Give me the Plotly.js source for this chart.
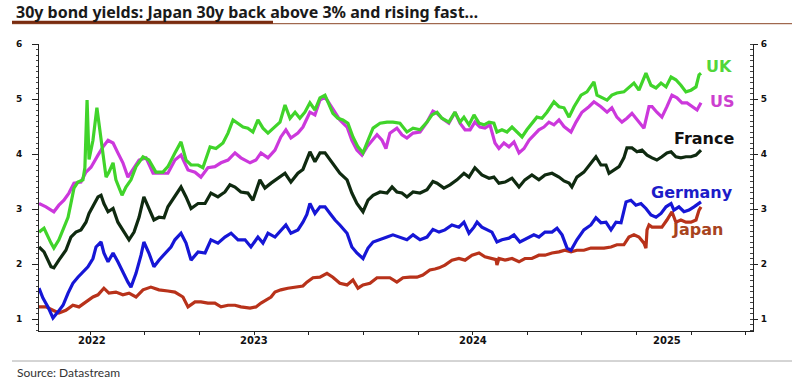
<!DOCTYPE html>
<html><head><meta charset="utf-8">
<script src="https://cdn.plot.ly/plotly-3.0.1.min.js"></script>
<style>html,body{margin:0;padding:0;background:#fff}#chart{width:792px;height:386px}</style>
</head><body><div id="chart"></div>
<script>
// time in decimal years
const ukT=[2022.515,2022.538,2022.570,2022.583,2022.606,2022.625,2022.648,2022.661,2022.675,2022.693,2022.716,2022.725,2022.735,2022.744,2022.762,2022.780,2022.789,2022.808,2022.822,2022.835,2022.854,2022.867,2022.895,2022.913,2022.936,2022.959,2022.991,2023.018,2023.050,2023.082,2023.105,2023.137,2023.165,2023.188,2023.211,2023.243,2023.265,2023.298,2023.325,2023.357,2023.380,2023.403,2023.426,2023.449,2023.471,2023.494,2023.517,2023.540,2023.563,2023.595,2023.618,2023.641,2023.664,2023.687,2023.709,2023.732,2023.755,2023.778,2023.801,2023.824,2023.838,2023.860,2023.883,2023.906,2023.929,2023.952,2023.975,2023.998,2024.021,2024.044,2024.076,2024.108,2024.135,2024.167,2024.199,2024.227,2024.259,2024.291,2024.314,2024.337,2024.359,2024.391,2024.419,2024.442,2024.460,2024.483,2024.506,2024.529,2024.552,2024.575,2024.597,2024.611,2024.634,2024.657,2024.680,2024.703,2024.726,2024.748,2024.771,2024.794,2024.817,2024.840,2024.872,2024.895,2024.918,2024.941,2024.964,2024.996,2025.023,2025.055,2025.069,2025.092,2025.115,2025.137,2025.160,2025.192,2025.215,2025.238,2025.261,2025.293,2025.316,2025.339,2025.362,2025.385,2025.408,2025.430,2025.453,2025.476,2025.499,2025.522,2025.536,2025.545];
const ukV=[2.58,2.65,2.38,2.29,2.44,2.62,2.85,3.10,3.38,3.49,3.53,3.75,4.98,3.90,4.25,4.84,4.56,4.02,3.58,3.67,3.84,3.53,3.25,3.40,3.53,3.77,3.95,3.89,3.67,3.67,3.77,4.02,4.22,3.89,3.80,3.80,3.75,4.13,4.10,4.20,4.38,4.62,4.56,4.49,4.47,4.40,4.62,4.47,4.38,4.49,4.58,4.89,4.65,4.76,4.65,4.76,4.93,4.80,5.02,5.07,4.95,4.74,4.65,4.62,4.56,4.31,4.13,4.02,4.25,4.47,4.56,4.58,4.58,4.56,4.40,4.47,4.44,4.58,4.71,4.76,4.65,4.58,4.76,4.58,4.67,4.53,4.71,4.56,4.53,4.58,4.56,4.40,4.44,4.40,4.49,4.40,4.31,4.44,4.56,4.67,4.65,4.76,4.95,4.86,4.84,4.67,4.86,5.07,5.13,5.31,5.07,5.02,4.98,5.07,5.11,5.13,5.22,5.29,5.16,5.47,5.25,5.20,5.29,5.22,5.40,5.35,5.25,5.13,5.16,5.22,5.44,5.47];

const usT=[2022.515,2022.547,2022.583,2022.606,2022.629,2022.652,2022.675,2022.707,2022.730,2022.753,2022.785,2022.808,2022.831,2022.854,2022.876,2022.899,2022.922,2022.945,2022.973,2023.005,2023.037,2023.064,2023.105,2023.137,2023.165,2023.197,2023.229,2023.256,2023.288,2023.320,2023.348,2023.380,2023.412,2023.439,2023.481,2023.508,2023.531,2023.563,2023.595,2023.622,2023.645,2023.668,2023.700,2023.723,2023.755,2023.778,2023.801,2023.824,2023.847,2023.870,2023.892,2023.925,2023.947,2023.970,2023.993,2024.016,2024.039,2024.062,2024.085,2024.103,2024.121,2024.153,2024.176,2024.199,2024.227,2024.259,2024.291,2024.318,2024.337,2024.359,2024.391,2024.419,2024.442,2024.465,2024.488,2024.510,2024.533,2024.556,2024.579,2024.602,2024.620,2024.643,2024.666,2024.689,2024.712,2024.735,2024.758,2024.780,2024.803,2024.826,2024.849,2024.872,2024.895,2024.918,2024.950,2024.973,2025.000,2025.032,2025.055,2025.087,2025.115,2025.137,2025.160,2025.183,2025.206,2025.229,2025.252,2025.284,2025.307,2025.321,2025.343,2025.366,2025.389,2025.412,2025.435,2025.458,2025.481,2025.504,2025.527,2025.545];
const usV=[3.10,3.04,2.95,3.07,3.16,3.29,3.47,3.49,3.67,3.76,3.98,4.13,4.25,4.20,4.02,3.84,3.58,3.71,3.89,3.93,3.65,3.65,3.65,3.89,3.98,3.71,3.67,3.58,3.75,3.77,3.84,3.89,4.02,3.93,3.84,3.89,4.02,3.93,4.07,4.31,4.44,4.29,4.38,4.49,4.76,4.71,4.98,5.04,4.89,4.74,4.62,4.49,4.25,4.07,3.98,4.13,4.25,4.35,4.25,4.10,4.38,4.47,4.35,4.29,4.38,4.40,4.58,4.78,4.74,4.65,4.56,4.76,4.56,4.44,4.44,4.58,4.49,4.47,4.53,4.20,4.10,4.20,4.13,4.22,4.02,4.10,4.25,4.35,4.44,4.49,4.58,4.53,4.62,4.50,4.40,4.58,4.76,4.86,4.95,4.86,4.76,4.84,4.67,4.58,4.65,4.74,4.62,4.47,4.86,4.86,4.76,4.67,4.86,5.07,5.02,4.93,4.93,4.86,4.80,4.93];

const frT=[2022.515,2022.538,2022.570,2022.583,2022.606,2022.638,2022.661,2022.684,2022.707,2022.730,2022.744,2022.767,2022.785,2022.799,2022.812,2022.831,2022.854,2022.876,2022.899,2022.927,2022.950,2022.973,2022.995,2023.018,2023.041,2023.064,2023.087,2023.105,2023.137,2023.165,2023.188,2023.211,2023.243,2023.275,2023.302,2023.334,2023.366,2023.389,2023.412,2023.439,2023.471,2023.494,2023.526,2023.549,2023.577,2023.609,2023.641,2023.668,2023.700,2023.723,2023.755,2023.778,2023.801,2023.824,2023.847,2023.870,2023.892,2023.925,2023.947,2023.970,2023.998,2024.021,2024.044,2024.076,2024.108,2024.131,2024.153,2024.176,2024.199,2024.227,2024.259,2024.291,2024.318,2024.337,2024.368,2024.396,2024.428,2024.460,2024.483,2024.510,2024.542,2024.575,2024.597,2024.620,2024.648,2024.680,2024.712,2024.739,2024.771,2024.803,2024.831,2024.863,2024.895,2024.918,2024.941,2024.954,2024.977,2025.009,2025.041,2025.064,2025.087,2025.110,2025.124,2025.147,2025.170,2025.192,2025.206,2025.229,2025.252,2025.275,2025.298,2025.321,2025.343,2025.366,2025.389,2025.408,2025.430,2025.453,2025.476,2025.499,2025.522,2025.545];
const frV=[2.31,2.22,1.95,1.93,2.07,2.25,2.49,2.58,2.62,2.76,2.92,3.10,3.22,3.25,3.10,2.95,3.01,2.76,2.62,2.44,2.58,2.85,3.22,3.01,2.80,2.85,2.84,3.04,3.22,3.40,3.22,3.01,3.10,3.10,3.29,3.22,3.31,3.44,3.40,3.31,3.29,3.16,3.53,3.38,3.47,3.56,3.65,3.49,3.65,3.72,4.04,3.86,4.02,4.02,3.89,3.77,3.65,3.53,3.29,3.10,2.95,3.16,3.25,3.31,3.29,3.40,3.31,3.29,3.22,3.31,3.29,3.35,3.50,3.47,3.38,3.44,3.53,3.65,3.58,3.75,3.62,3.56,3.58,3.47,3.49,3.56,3.40,3.53,3.62,3.53,3.62,3.65,3.58,3.51,3.47,3.40,3.58,3.67,3.84,3.95,3.80,3.80,3.65,3.71,3.77,3.93,4.11,4.11,4.04,4.07,3.98,3.93,3.89,3.95,4.02,4.04,3.95,3.93,3.95,3.95,3.98,4.07];

const deT=[2022.515,2022.533,2022.556,2022.579,2022.602,2022.625,2022.648,2022.670,2022.693,2022.716,2022.739,2022.762,2022.776,2022.799,2022.812,2022.831,2022.854,2022.876,2022.899,2022.922,2022.936,2022.959,2022.982,2022.995,2023.018,2023.041,2023.064,2023.096,2023.119,2023.137,2023.165,2023.188,2023.211,2023.243,2023.275,2023.302,2023.334,2023.366,2023.394,2023.426,2023.458,2023.485,2023.517,2023.540,2023.563,2023.595,2023.622,2023.645,2023.668,2023.700,2023.723,2023.741,2023.755,2023.778,2023.801,2023.824,2023.847,2023.870,2023.892,2023.925,2023.947,2023.970,2023.998,2024.021,2024.044,2024.076,2024.108,2024.135,2024.167,2024.199,2024.227,2024.259,2024.291,2024.318,2024.346,2024.373,2024.405,2024.437,2024.460,2024.483,2024.506,2024.520,2024.542,2024.565,2024.588,2024.611,2024.634,2024.666,2024.689,2024.716,2024.748,2024.780,2024.803,2024.831,2024.863,2024.886,2024.909,2024.932,2024.950,2024.977,2025.009,2025.041,2025.064,2025.087,2025.110,2025.133,2025.156,2025.179,2025.202,2025.224,2025.247,2025.270,2025.293,2025.316,2025.339,2025.362,2025.385,2025.408,2025.421,2025.444,2025.467,2025.490,2025.513,2025.545];
const deV=[1.56,1.38,1.22,1.02,1.13,1.25,1.47,1.65,1.76,1.85,1.95,2.10,2.31,2.40,2.20,2.04,2.20,2.04,1.85,1.67,1.58,1.83,2.16,2.40,2.20,1.95,2.07,2.20,2.31,2.44,2.56,2.38,2.07,2.22,2.20,2.44,2.38,2.49,2.56,2.44,2.44,2.31,2.49,2.38,2.56,2.49,2.62,2.71,2.56,2.62,2.76,2.90,3.10,2.92,3.04,3.04,2.92,2.80,2.71,2.56,2.31,2.20,2.10,2.29,2.40,2.44,2.49,2.53,2.49,2.44,2.53,2.44,2.49,2.63,2.58,2.62,2.71,2.67,2.76,2.56,2.67,2.76,2.67,2.62,2.58,2.40,2.44,2.47,2.53,2.40,2.47,2.53,2.49,2.58,2.58,2.65,2.53,2.29,2.25,2.44,2.62,2.71,2.84,2.75,2.76,2.62,2.76,2.75,3.13,3.16,3.07,3.10,3.01,2.89,2.85,2.92,3.04,3.10,2.98,3.04,2.95,2.98,3.04,3.13];

const jpT=[2022.515,2022.547,2022.579,2022.606,2022.638,2022.670,2022.698,2022.730,2022.762,2022.785,2022.812,2022.835,2022.867,2022.899,2022.927,2022.959,2022.991,2023.027,2023.064,2023.105,2023.137,2023.174,2023.197,2023.229,2023.256,2023.288,2023.320,2023.348,2023.380,2023.412,2023.439,2023.481,2023.508,2023.531,2023.554,2023.577,2023.595,2023.622,2023.654,2023.687,2023.723,2023.741,2023.769,2023.801,2023.833,2023.860,2023.892,2023.925,2023.952,2023.975,2023.998,2024.030,2024.062,2024.089,2024.121,2024.153,2024.181,2024.213,2024.245,2024.272,2024.304,2024.327,2024.346,2024.373,2024.405,2024.437,2024.465,2024.497,2024.529,2024.556,2024.588,2024.607,2024.611,2024.620,2024.648,2024.680,2024.712,2024.739,2024.771,2024.803,2024.831,2024.863,2024.895,2024.922,2024.950,2024.977,2025.009,2025.041,2025.069,2025.101,2025.133,2025.160,2025.192,2025.215,2025.238,2025.261,2025.284,2025.293,2025.298,2025.307,2025.321,2025.343,2025.366,2025.389,2025.412,2025.430,2025.453,2025.476,2025.499,2025.522,2025.536,2025.545];
const jpV=[1.22,1.22,1.16,1.11,1.16,1.25,1.22,1.31,1.40,1.44,1.56,1.47,1.49,1.44,1.47,1.40,1.53,1.58,1.53,1.51,1.49,1.40,1.22,1.31,1.31,1.29,1.29,1.22,1.25,1.25,1.22,1.20,1.22,1.29,1.35,1.40,1.49,1.53,1.56,1.58,1.60,1.67,1.75,1.76,1.83,1.76,1.65,1.62,1.71,1.56,1.62,1.65,1.75,1.75,1.75,1.67,1.75,1.76,1.76,1.80,1.89,1.91,1.93,1.98,2.07,2.10,2.07,2.16,2.20,2.13,2.10,2.08,1.98,2.10,2.07,2.10,2.04,2.10,2.10,2.16,2.16,2.20,2.22,2.25,2.22,2.25,2.25,2.29,2.29,2.29,2.31,2.35,2.35,2.49,2.53,2.49,2.38,2.29,2.62,2.71,2.67,2.67,2.67,2.80,2.95,2.76,2.80,2.76,2.76,2.80,2.98,3.04];

const seriesNames=['Japan','Germany','France','US','UK'];
const quarterTicks=[2022.75,2023,2023.25,2023.5,2023.75,2024,2024.25,2024.5,2024.75,2025,2025.25,2025.5,2025.75];
const yearLabels=['2022','2023','2024','2025'];
const yearLabelPos=[2022.758,2023.5,2024.5,2025.39];

const cols={Japan:'#b8321a',Germany:'#1616d6',France:'#0f2a10',US:'#cc38dc',UK:'#40d42a'};
const labelCols={Japan:'#a8441e',Germany:'#1c1cc8',France:'#111111',US:'#cc3fcf',UK:'#52d63a'};
const dataMap={Japan:[jpT,jpV],Germany:[deT,deV],France:[frT,frV],US:[usT,usV],UK:[ukT,ukV]};

const traces=seriesNames.map(n=>({x:dataMap[n][0],y:dataMap[n][1],type:'scatter',mode:'lines',name:n,line:{color:cols[n],width:3.2},hoverinfo:'skip'}));
traces.push({x:[ukT[0]],y:[ukV[0]],yaxis:'y2',type:'scatter',mode:'markers',marker:{opacity:0},hoverinfo:'skip',showlegend:false});

const W=792,H=386,L=39,R=39,T=44,B=55;
const pw=W-L-R, ph=H-T-B;
const px=v=>(v-L)/pw, py=v=>(H-B-v)/ph;

const tickFont={family:'DejaVu Sans, sans-serif',size:9,color:'#111',weight:700};
const yr=[0.782,6.0];

const annotations=[];
yearLabels.forEach((t,i)=>annotations.push({x:yearLabelPos[i],xref:'x',y:py(340),yref:'paper',text:t,showarrow:false,xanchor:'center',yanchor:'middle',font:{family:'DejaVu Sans, sans-serif',size:10,color:'#111',weight:700}}));
const labelPos={UK:[719,66],US:[722,101],France:[704,138],Germany:[692,192],Japan:[697,229]};
seriesNames.forEach(n=>annotations.push({x:px(labelPos[n][0]),y:py(labelPos[n][1]),xref:'paper',yref:'paper',text:n,showarrow:false,xanchor:'center',yanchor:'middle',font:{family:'DejaVu Sans, sans-serif',size:16,color:labelCols[n],weight:700}}));
annotations.push({x:px(15),y:py(372),xref:'paper',yref:'paper',text:'Source: Datastream',showarrow:false,xanchor:'left',yanchor:'middle',font:{family:'Lato, sans-serif',size:12,color:'#333'}});

const shapes=[
 {type:'line',xref:'paper',yref:'paper',x0:px(12),x1:px(792),y0:py(23.7),y1:py(23.7),line:{color:'#8a4526',width:1}},
 {type:'line',xref:'paper',yref:'paper',x0:px(12),x1:px(273),y0:py(22.3),y1:py(22.3),line:{color:'#7a2c10',width:3}},
 {type:'line',xref:'paper',yref:'paper',x0:px(12),x1:px(792),y0:py(361),y1:py(361),line:{color:'#aaaaaa',width:1}}
];

const layout={
 width:W,height:H,margin:{l:L,r:R,t:T,b:B,pad:0},
 paper_bgcolor:'#ffffff',plot_bgcolor:'#ffffff',showlegend:false,
 title:{text:'30y bond yields: Japan 30y back above 3% and rising fast…',font:{family:'Noto Sans, sans-serif',size:16,color:'#1a1a1a',weight:700},xref:'container',x:16/W,xanchor:'left',yref:'container',y:1-12/H,yanchor:'middle'},
 xaxis:{range:[2022.515,2025.783],tickmode:'array',tickvals:quarterTicks,ticktext:quarterTicks.map(()=>''),ticks:'outside',ticklen:3,tickcolor:'#222',showline:true,linecolor:'#222',linewidth:1,showgrid:false,zeroline:false},
 yaxis:{range:yr,tickmode:'linear',tick0:0,dtick:1,ticks:'outside',ticklen:6,tickcolor:'#222',showline:true,linecolor:'#222',linewidth:1,showgrid:false,zeroline:false,tickfont:tickFont,ticklabelstandoff:8,minor:{dtick:0.1,ticks:'outside',ticklen:2,tickcolor:'#444'}},
 yaxis2:{range:yr,overlaying:'y',side:'right',tickmode:'linear',tick0:0,dtick:1,ticks:'outside',ticklen:4,tickcolor:'#222',showline:true,linecolor:'#222',linewidth:1,showgrid:false,zeroline:false,tickfont:tickFont,ticklabelstandoff:1,minor:{dtick:0.1,ticks:'inside',ticklen:3,tickcolor:'#444'}},
 annotations:annotations,shapes:shapes
};
Plotly.newPlot('chart',traces,layout,{staticPlot:true,displayModeBar:false});
</script></body></html>
